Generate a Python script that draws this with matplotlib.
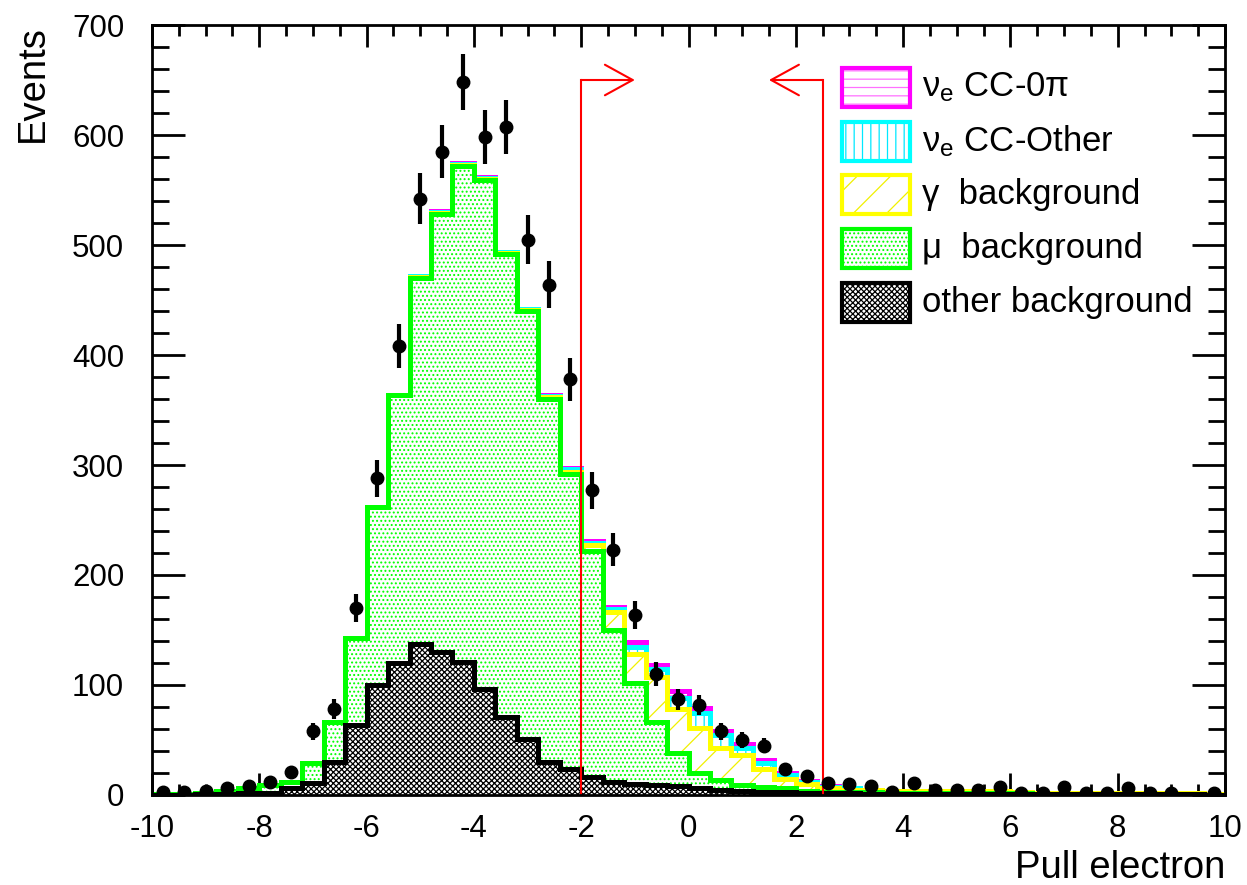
import numpy as np
import matplotlib
matplotlib.use("Agg")
import matplotlib.pyplot as plt
from matplotlib.patches import Rectangle

plt.rcParams['font.family'] = ['Liberation Sans', 'DejaVu Sans']
plt.rcParams['mathtext.fontset'] = 'custom'
plt.rcParams['mathtext.rm'] = 'Liberation Sans'
plt.rcParams['axes.unicode_minus'] = False
plt.rcParams['hatch.linewidth'] = 0.9

# 50 bins of width 0.4 from -10 to 10
edges = np.linspace(-10, 10, 51)
centers = 0.5 * (edges[:-1] + edges[1:])

# stacked MC components (events per bin), bottom to top
other_bkg = [0, 0, 1, 1, 2, 2, 6, 11, 30, 64, 100, 120, 137, 130, 121, 96, 71, 51, 30, 24,
             16, 12, 10, 9, 8, 6, 5, 4, 3, 3, 2, 2, 2, 1, 1, 1, 1, 1, 1, 1,
             1, 1, 1, 1, 1, 1, 1, 1, 1, 0]
mu_bkg = [1, 1, 1, 3, 4, 7, 6, 18, 36, 79, 162, 244, 333, 398, 451, 463, 421, 389, 330, 268,
          206, 138, 92, 57, 30, 14, 9, 5, 4, 3, 2, 1, 1, 2, 1, 1, 1, 1, 1, 1,
          1, 0, 0, 0, 0, 0, 0, 0, 0, 0]
gamma_bkg = [0, 0, 0, 0, 0, 0, 0, 0, 0, 0, 0, 0, 1, 1, 1, 1, 1, 1, 2, 2,
             5, 16, 26, 41, 40, 41, 29, 27, 17, 9, 6, 3, 2, 2, 2, 2, 2, 2, 2, 2,
             1, 1, 1, 1, 1, 1, 1, 1, 1, 1]
nue_other = [0, 0, 0, 0, 0, 0, 0, 0, 0, 0, 0, 0, 1, 1, 1, 1, 1, 1, 1, 2,
             2, 3, 7, 8, 10, 14, 12, 7, 5, 3, 2, 1, 1, 0, 0, 0, 0, 0, 0, 0,
             0, 0, 0, 0, 0, 0, 0, 0, 0, 0]
nue_0pi = [0, 0, 0, 0, 0, 0, 0, 0, 0, 0, 0, 0, 0, 1, 1, 1, 0, 0, 1, 1,
           2, 2, 4, 3, 7, 4, 3, 3, 3, 2, 1, 1, 0, 0, 0, 0, 0, 0, 0, 0,
           0, 0, 0, 0, 0, 0, 0, 0, 0, 0]

# data counts per bin (nan = empty bin, not drawn)
data = [3, 3, 4, 6, 8, 12, 21, 58, 78, 170, 288, 408, 542, 585, 648, 598, 607, 505, 464, 378,
        277, 223, 164, 110, 87, 82, 58, 50, 45, 24, 17, 11, 10, 8, 3, 11, 5, 5, 5, 7,
        2, 2, 7, 2, 2, 6, 2, 2, np.nan, 2]

# selection cuts
cut_low = -2.0
cut_high = 2.5
arrow_y = 650
arrow_len = 1.0

labels = [r"$\mathregular{ν_e}$ CC-0π", r"$\mathregular{ν_e}$ CC-Other",
          "γ  background", "μ  background", "other background"]
line_colors = ["#ff00ff", "#00ffff", "#ffff00", "#00ff00", "black"]
hatch_colors = ["#ff70ff", "#00e8ff", "#f0f000", "#00ff00", "black"]
hatches = ["--", "||", "/", "....", "xxxxxx"]

fig = plt.figure(figsize=(12.47, 8.85), dpi=100)
ax = fig.add_axes([152 / 1247, 1 - 795 / 885, 1073 / 1247, 770 / 885])

# cumulative stack, drawn from top layer down like a THStack
components = [nue_0pi, nue_other, gamma_bkg, mu_bkg, other_bkg]
stack = np.cumsum(np.array(components[::-1], dtype=float), axis=0)[::-1]
for i, cum in enumerate(stack):
    ax.stairs(cum, edges, baseline=0, fill=True, facecolor="white",
              edgecolor=hatch_colors[i], hatch=hatches[i], linewidth=0, zorder=2 + i * 0.1)
    ax.stairs(cum, edges, baseline=0, fill=False, color=line_colors[i],
              linewidth=3.6, zorder=2.05 + i * 0.1)

# cut lines with arrows
for xc, direction in [(cut_low, 1), (cut_high, -1)]:
    ax.plot([xc, xc], [0, arrow_y], color="red", lw=1.5, zorder=3)
    ax.annotate("", xy=(xc + direction * arrow_len, arrow_y), xytext=(xc, arrow_y),
                arrowprops=dict(arrowstyle="->,head_length=1.0,head_width=0.55",
                                color="red", lw=1.5, shrinkA=0, shrinkB=0,
                                mutation_scale=20), zorder=3)

# data points with Poisson errors
d = np.array(data, dtype=float)
ax.errorbar(centers, d, yerr=np.sqrt(d), fmt="o", color="black", ms=9,
            elinewidth=3, capsize=0, zorder=4)

ax.set_xlim(-10, 10)
ax.set_ylim(0, 700)
ax.set_xticks(np.arange(-10, 11, 2))
ax.set_xticks(np.arange(-10, 10.01, 0.5), minor=True)
ax.set_yticks(np.arange(0, 701, 100))
ax.set_yticks(np.arange(0, 701, 20), minor=True)
ax.tick_params(axis="both", which="both", direction="in", top=True, right=True,
               width=2, labelsize=22.5)
ax.tick_params(axis="x", which="major", length=16, pad=14)
ax.tick_params(axis="x", which="minor", length=8)
ax.tick_params(axis="y", which="major", length=24, pad=20)
ax.tick_params(axis="y", which="minor", length=12)
for sp in ax.spines.values():
    sp.set_linewidth(2)
    sp.set_zorder(6)

ax.set_xlabel("Pull electron", fontsize=27.5, loc="right")
ax.xaxis.set_label_coords(1.0, -0.072)
ax.text(-0.111, 1.0, "Events", fontsize=27.5, rotation=90, ha="center", va="top",
        transform=ax.transAxes)

# legend drawn as boxes in axes coordinates
box_x, box_w, box_h = 0.6428, 0.0637, 0.0506
y0, dy = 0.9188, 0.0697
for i, lab in enumerate(labels):
    yc = y0 - i * dy
    ax.add_patch(Rectangle((box_x, yc - box_h / 2), box_w, box_h, transform=ax.transAxes,
                           facecolor="white", edgecolor=hatch_colors[i], hatch=hatches[i],
                           linewidth=0, zorder=7))
    ax.add_patch(Rectangle((box_x, yc - box_h / 2), box_w, box_h, transform=ax.transAxes,
                           fill=False, edgecolor=line_colors[i], linewidth=3, zorder=7.1))
    ax.text(box_x + box_w + 0.011, yc, lab, fontsize=25, va="center", ha="left",
            transform=ax.transAxes, zorder=7.2)

fig.savefig("out.png", dpi=100)
